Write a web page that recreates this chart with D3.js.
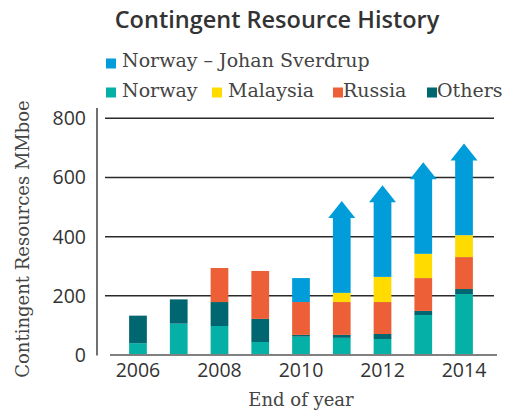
<!DOCTYPE html>
<html><head><meta charset="utf-8">
<script src="https://cdn.jsdelivr.net/npm/d3@7"></script>
<style>body{margin:0;background:#fff}</style>
</head><body>
<svg id="c" width="507" height="414"></svg>
<script>
const years = [2006, 2007, 2008, 2009, 2010, 2011, 2012, 2013, 2014];
const norway   = [40, 106, 98, 44, 62, 58, 54, 135, 206];
const others   = [93, 82, 81, 78, 6, 10, 17, 14, 17];
const russia   = [0, 0, 115, 162, 111, 111, 108, 111, 108];
const malaysia = [0, 0, 0, 0, 0, 31, 85, 82, 74];
const sverdrup = [0, 0, 0, 0, 81, 255, 254, 254, 254];
const arrow    = [false, false, false, false, false, true, true, true, true];
const yTicks = [0, 200, 400, 600, 800];
const xTickYears = [2006, 2008, 2010, 2012, 2014];
const seriesNames = ["Norway", "Others", "Russia", "Malaysia", "Norway – Johan Sverdrup"];
const seriesColors = ["#05b1a6", "#006670", "#ec5f37", "#ffdb00", "#009dda"];

const svg = d3.select("#c");
const sans = "'Open Sans', sans-serif";
const serif = "'DejaVu Serif', serif";

const x = d3.scaleBand().domain(years).range([117.6, 484.4]).paddingInner(0.565).paddingOuter(0.2825);
const y = d3.scaleLinear().domain([0, 800]).range([355, 118.3]);

// gridlines
svg.append("g").selectAll("line").data(yTicks.filter(d => d > 0)).join("line")
  .attr("x1", 105).attr("x2", 494).attr("y1", d => y(d)).attr("y2", d => y(d))
  .attr("stroke", "#2a2a2a").attr("stroke-width", 1.5);

// stacked data
const rows = years.map((yr, i) => ({year: yr, s0: norway[i], s1: others[i], s2: russia[i], s3: malaysia[i], s4: sverdrup[i], arrow: arrow[i]}));
const stack = d3.stack().keys(["s0", "s1", "s2", "s3", "s4"]);
const layers = stack(rows);

layers.forEach((layer, li) => {
  svg.append("g").selectAll("rect").data(layer.filter(d => d[1] - d[0] > 0)).join("rect")
    .attr("x", d => x(d.data.year))
    .attr("width", x.bandwidth())
    .attr("y", d => y(d[1]))
    .attr("height", d => y(d[0]) - y(d[1]))
    .attr("fill", seriesColors[li]);
});

// arrow heads on Johan Sverdrup
const topLayer = layers[4];
svg.append("g").selectAll("path").data(topLayer.filter(d => d.data.arrow)).join("path")
  .attr("d", d => {
    const cx = x(d.data.year) + x.bandwidth() / 2;
    const yb = y(d[1]) + 0.5;
    return `M${cx - 13.5},${yb} L${cx},${yb - 17} L${cx + 13.5},${yb} Z`;
  })
  .attr("fill", seriesColors[4]);

// axes lines
svg.append("line").attr("x1", 97).attr("x2", 97).attr("y1", 108).attr("y2", 355.5)
  .attr("stroke", "#707070").attr("stroke-width", 2);
svg.append("line").attr("x1", 110).attr("x2", 497).attr("y1", 355).attr("y2", 355)
  .attr("stroke", "#808080").attr("stroke-width", 2);

// y tick labels
svg.append("g").selectAll("text").data(yTicks).join("text")
  .attr("x", 86).attr("y", d => y(d)).attr("dy", "0.36em")
  .attr("text-anchor", "end").attr("font-family", sans).attr("font-size", 19.5)
  .attr("fill", "#333").text(d => d);

// x tick labels
svg.append("g").selectAll("text").data(xTickYears).join("text")
  .attr("x", d => x(d) + x.bandwidth() / 2).attr("y", 377)
  .attr("text-anchor", "middle").attr("font-family", sans).attr("font-size", 19.5)
  .attr("fill", "#333").text(d => d);

// axis titles
svg.append("text").attr("transform", "translate(29,239) rotate(-90)")
  .attr("text-anchor", "middle").attr("font-family", serif).attr("font-size", 18)
  .attr("fill", "#444").text("Contingent Resources MMboe");
svg.append("text").attr("x", 301).attr("y", 406)
  .attr("text-anchor", "middle").attr("font-family", serif).attr("font-size", 18)
  .attr("fill", "#444").text("End of year");

// title
svg.append("text").attr("x", 277).attr("y", 27.5).attr("text-anchor", "middle")
  .attr("font-family", sans).attr("font-weight", 600).attr("font-size", 23.5)
  .attr("fill", "#333").text("Contingent Resource History");

// legend
const legendItems = [
  {i: 4, sx: 106, sy: 58.5, tx: 122, ty: 67},
  {i: 0, sx: 106, sy: 87.5, tx: 122, ty: 96.5},
  {i: 3, sx: 212, sy: 87.5, tx: 228, ty: 96.5},
  {i: 2, sx: 333, sy: 87.5, tx: 343, ty: 96.5},
  {i: 1, sx: 427, sy: 87.5, tx: 437, ty: 96.5}
];
const lg = svg.append("g").selectAll("g").data(legendItems).join("g");
lg.append("rect").attr("x", d => d.sx).attr("y", d => d.sy).attr("width", 10).attr("height", 10)
  .attr("fill", d => seriesColors[d.i]);
lg.append("text").attr("x", d => d.tx).attr("y", d => d.ty)
  .attr("font-family", serif).attr("font-size", 19).attr("fill", "#444")
  .text(d => seriesNames[d.i]);
</script>
</body></html>
